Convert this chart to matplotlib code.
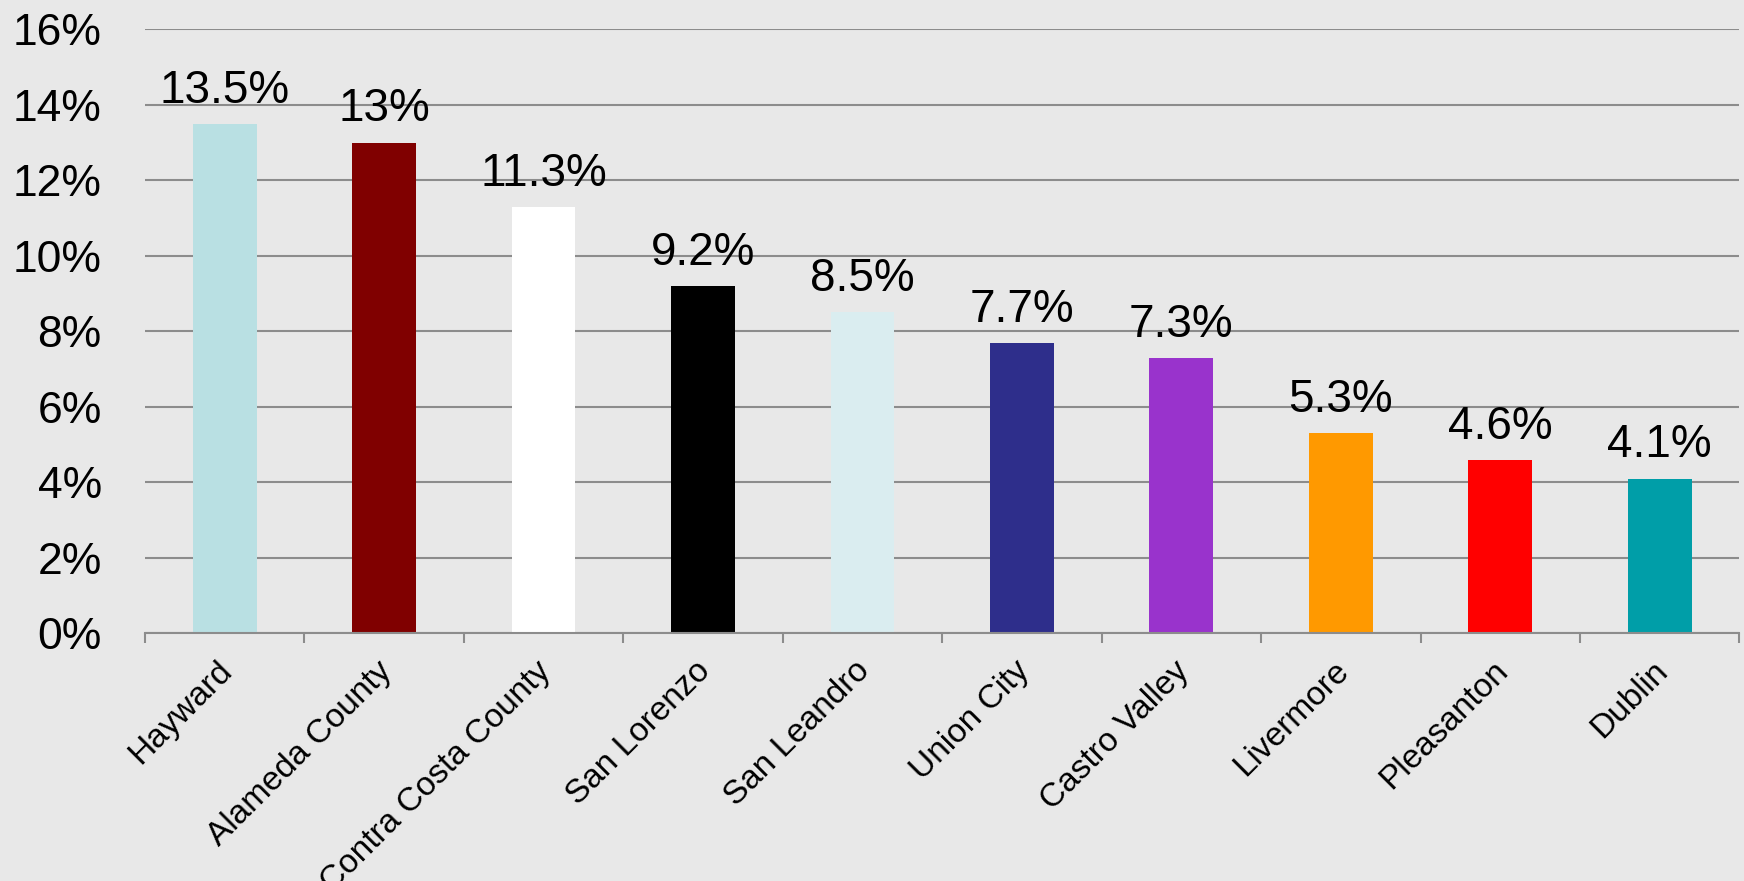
import numpy as np
import matplotlib
matplotlib.use("Agg")
import matplotlib.pyplot as plt
import matplotlib.transforms as mtransforms

places = ["Hayward", "Alameda County", "Contra Costa County", "San Lorenzo",
          "San Leandro", "Union City", "Castro Valley", "Livermore",
          "Pleasanton", "Dublin"]
rates = [13.5, 13.0, 11.3, 9.2, 8.5, 7.7, 7.3, 5.3, 4.6, 4.1]
bar_colors = ["#b9e0e3", "#800000", "#ffffff", "#000000", "#daedf0",
              "#2e2e8b", "#9933cc", "#ff9900", "#ff0000", "#009ea8"]
y_ticks = [0, 2, 4, 6, 8, 10, 12, 14, 16]

plt.rcParams['font.family'] = ['Liberation Sans', 'DejaVu Sans']
bg = "#e8e8e8"
grid_col = "#8c8c8c"

fig = plt.figure(figsize=(17.44, 8.81), dpi=100, facecolor=bg)
ax = fig.add_axes([0.0831, 0.2812, 0.9143, 0.6855])
ax.set_facecolor(bg)

x = np.arange(len(places))
bars = ax.bar(x, rates, width=0.4, color=bar_colors, zorder=3)
ax.bar_label(bars, labels=[f"{v:g}%" for v in rates], padding=8, fontsize=33)

ax.set_xlim(-0.5, len(places) - 0.5)
ax.set_ylim(0, 16)
ax.set_yticks(y_ticks)
ax.set_yticklabels([f"{t}%" for t in y_ticks], fontsize=32)
ax.tick_params(axis='y', length=0, pad=31)
ax.yaxis.grid(True, color=grid_col, linewidth=1.5, zorder=0)

ax.set_xticks(x)
ax.set_xticklabels(places, fontsize=24, rotation=45, ha='right', va='top',
                   rotation_mode='anchor')
ax.tick_params(axis='x', which='major', length=0, pad=16)
shift = mtransforms.ScaledTranslation(-8 / 100, 0, fig.dpi_scale_trans)
for lbl in ax.get_xticklabels():
    lbl.set_transform(lbl.get_transform() + shift)
ax.set_xticks(np.arange(len(places) + 1) - 0.5, minor=True)
ax.tick_params(axis='x', which='minor', length=7, width=1.5, color=grid_col)

for s in ['top', 'right', 'left']:
    ax.spines[s].set_visible(False)
ax.spines['bottom'].set_color(grid_col)
ax.spines['bottom'].set_linewidth(1.5)
ax.spines['bottom'].set_zorder(4)

fig.savefig("out.png", dpi=100, facecolor=bg)
